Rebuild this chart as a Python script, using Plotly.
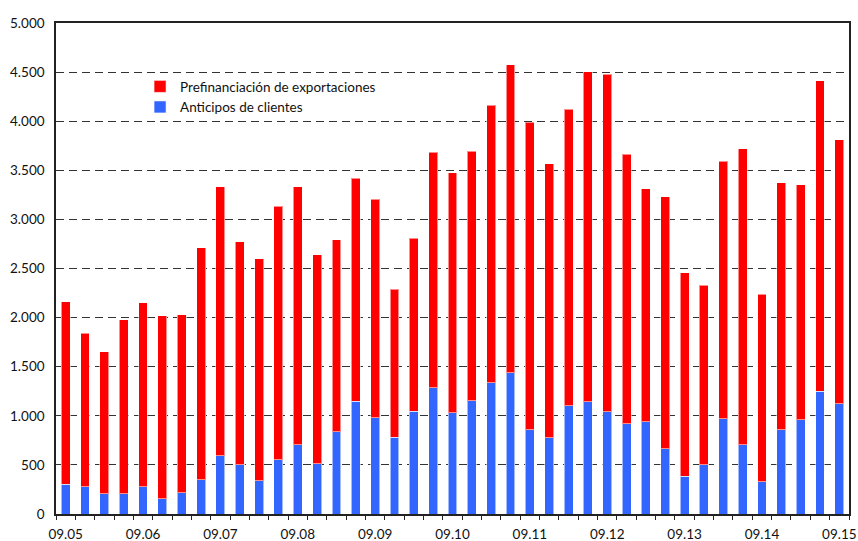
import plotly.graph_objects as go

quarters = list(range(41))
tick_positions = [0, 4, 8, 12, 16, 20, 24, 28, 32, 36, 40]
tick_labels = ["09.05", "09.06", "09.07", "09.08", "09.09", "09.10",
               "09.11", "09.12", "09.13", "09.14", "09.15"]

totals = [2160, 1840, 1650, 1980, 2150, 2020, 2030, 2710,
          3335, 2775, 2600, 3135, 3335, 2640, 2795, 3420,
          3205, 2290, 2810, 3685, 3475, 3695, 4165, 4575,
          3990, 3565, 4120, 4505, 4480, 3665, 3310, 3230,
          2455, 2330, 3590, 3720, 2240, 3375, 3355, 4410, 3810]
anticipos = [305, 280, 207, 205, 276, 153, 214, 347,
             592, 500, 337, 551, 704, 510, 840, 1150,
             980, 782, 1044, 1286, 1031, 1153, 1337, 1440,
             857, 776, 1102, 1143, 1041, 921, 939, 663,
             384, 500, 969, 707, 327, 857, 959, 1248, 1122]
prefinanciacion = [t - a for t, a in zip(totals, anticipos)]

fig = go.Figure()
fig.add_trace(go.Bar(
    x=quarters, y=anticipos, name="Anticipos de clientes",
    legendgroup="a",
    marker=dict(color="#3366FF", line=dict(color="rgba(255,255,255,0.55)", width=1)),
    width=0.46,
))
fig.add_trace(go.Bar(
    x=quarters, y=prefinanciacion, name="Prefinanciación de exportaciones",
    legendgroup="p",
    marker=dict(color="#FF0000", line=dict(color="rgba(255,255,255,0.55)", width=1)),
    width=0.46,
))

font_family = "Lato, 'Open Sans', sans-serif"
fig.update_layout(
    barmode="stack",
    width=858, height=541,
    margin=dict(l=56, r=9, t=23, b=27, autoexpand=False),
    paper_bgcolor="white", plot_bgcolor="white",
    separators=",.",
    font=dict(family=font_family, size=13.5, color="#111"),
    showlegend=True,
    legend=dict(
        x=0.106, y=0.902, xanchor="left", yanchor="top",
        traceorder="reversed", bgcolor="rgba(0,0,0,0)",
        font=dict(size=13.5, color="#111"),
        itemwidth=30, tracegroupgap=7,
    ),
    bargap=0.5,
)
fig.update_xaxes(
    range=[-0.5, 40.5], automargin=False,
    tickmode="array", tickvals=tick_positions, ticktext=tick_labels,
    ticks="", showgrid=False, zeroline=False,
    showline=True, linecolor="#222", linewidth=1.5, mirror=True,
    minor=dict(tickmode="linear", tick0=0.5, dtick=1, ticks="outside",
               ticklen=4, tickcolor="#222", tickwidth=1, showgrid=False),
    ticklabeloverflow="allow", ticklabelstandoff=7,
    tickfont=dict(size=13.5, color="#111"),
)
fig.update_yaxes(
    range=[0, 5000], dtick=500, tickformat=",d", automargin=False,
    showgrid=True, gridcolor="#333", gridwidth=1, griddash="8px,5px",
    zeroline=False,
    showline=True, linecolor="#222", linewidth=1.5, mirror=True,
    ticks="", ticklabelstandoff=7,
    tickfont=dict(size=13.5, color="#111"),
)

fig.write_html(
    "out.html",
    config={"displayModeBar": False},
    post_script="document.body.style.margin='0';document.body.style.overflow='hidden';",
)
